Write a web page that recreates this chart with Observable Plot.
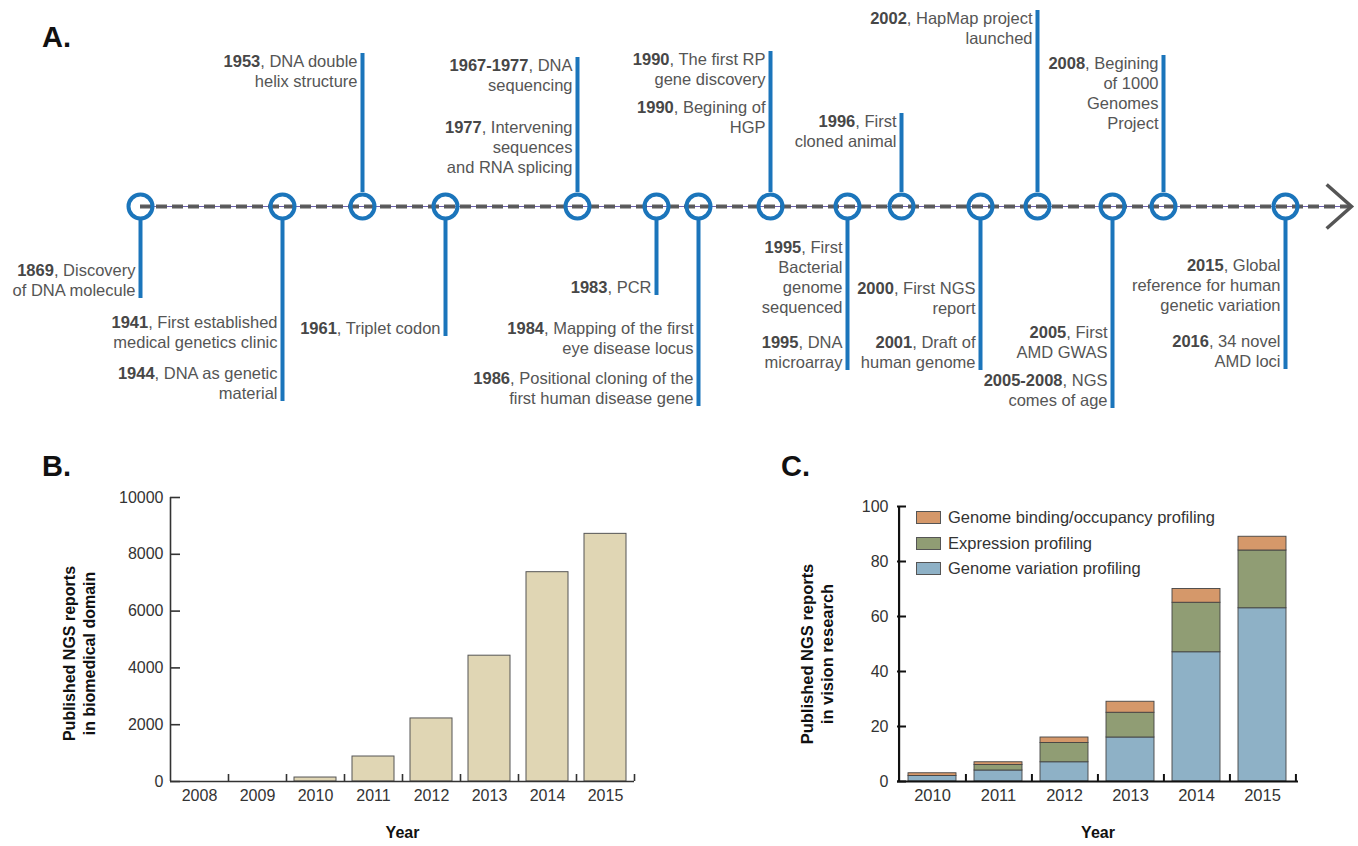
<!DOCTYPE html>
<html><head><meta charset="utf-8">
<script src="https://cdn.jsdelivr.net/npm/d3@7"></script>
<script src="https://cdn.jsdelivr.net/npm/@observablehq/plot@0.6"></script>
<style>
body{margin:0;background:#fff;font-family:"Liberation Sans",Arial,Helvetica,sans-serif;}
#root{position:relative;width:1358px;height:846px;overflow:hidden;background:#fff;}
.panel{position:absolute;}
.tag{position:absolute;font-weight:bold;font-size:29px;color:#111;line-height:1;}
.legend{position:absolute;font-size:16.5px;color:#333;}
.legend .row{display:flex;align-items:center;height:25.5px;}
.legend .sw{width:25px;height:13px;border:1px solid #555;box-sizing:border-box;margin-right:7px;}
</style></head><body><div id="root"></div>
<script>
// ---------- DATA ----------
// Panel A: timeline nodes (years shown by circles)
const nodeYears = [1869, 1944, 1953, 1961, 1977, 1983, 1986, 1990, 1995, 1996, 2001, 2002, 2005, 2008, 2016];
const axisEndYear = 2020;
// milestone paragraphs: node they hang from, their text lines
const milestoneNode = [1953, 1977, 1977, 1990, 1990, 1996, 2002, 2008,
  1869, 1944, 1944, 1961, 1983, 1986, 1986, 1995, 1995, 2001, 2001, 2005, 2005, 2016, 2016];
const milestoneText = [
  ["1953, DNA double", "helix structure"],
  ["1967-1977, DNA", "sequencing"],
  ["1977, Intervening", "sequences", "and RNA splicing"],
  ["1990, The first RP", "gene discovery"],
  ["1990, Begining of", "HGP"],
  ["1996, First", "cloned animal"],
  ["2002, HapMap project", "launched"],
  ["2008, Begining", "of 1000", "Genomes", "Project"],
  ["1869, Discovery", "of DNA molecule"],
  ["1941, First established", "medical genetics clinic"],
  ["1944, DNA as genetic", "material"],
  ["1961, Triplet codon"],
  ["1983, PCR"],
  ["1984, Mapping of the first", "eye disease locus"],
  ["1986, Positional cloning of the", "first human disease gene"],
  ["1995, First", "Bacterial", "genome", "sequenced"],
  ["1995, DNA", "microarray"],
  ["2000, First NGS", "report"],
  ["2001, Draft of", "human genome"],
  ["2005, First", "AMD GWAS"],
  ["2005-2008, NGS", "comes of age"],
  ["2015, Global", "reference for human", "genetic variation"],
  ["2016, 34 novel", "AMD loci"]
];

// Panel B
const bYears = ["2008", "2009", "2010", "2011", "2012", "2013", "2014", "2015"];
const bCounts = [0, 0, 140, 880, 2220, 4430, 7370, 8720];
const bTicks = [0, 2000, 4000, 6000, 8000, 10000];

// Panel C
const cYears = ["2010", "2011", "2012", "2013", "2014", "2015"];
const cSeries = ["Genome variation profiling", "Expression profiling", "Genome binding/occupancy profiling"];
const cVariation = [2, 4, 7, 16, 47, 63];
const cExpression = [0, 2, 7, 9, 18, 21];
const cBinding = [1, 1, 2, 4, 5, 5];
const cTicks = [0, 20, 40, 60, 80, 100];

// ---------- LAYOUT (not data) ----------
const nodePx = [140, 282, 362, 445, 577, 656, 698, 770, 847, 901, 980, 1037, 1112, 1163, 1285];
const arrowPx = 1351;
// text row (20px units from the axis) of each paragraph's first line
const milestoneRow = [7.25, 7.05, 3.95, 7.35, 4.95, 4.25, 9.4, 7.15,
  -3.2, -5.8, -8.35, -6.1, -4.05, -6.1, -8.6, -2.05, -6.8, -4.1, -6.8, -6.3, -8.7, -2.95, -6.75];

const FONT = "'Liberation Sans', Arial, Helvetica, sans-serif";
const blue = "#1b75bb";
const root = document.getElementById("root");

function place(node, left, top) {
  node.classList.add("panel");
  node.style.left = left + "px";
  node.style.top = top + "px";
  root.appendChild(node);
}
function tag(txt, left, top) {
  const d = document.createElement("div");
  d.className = "tag"; d.textContent = txt;
  d.style.left = left + "px"; d.style.top = top + "px";
  root.appendChild(d);
}

// ---------- PANEL A ----------
const lines = [];
milestoneText.forEach((ls, i) => ls.forEach((t, j) =>
  lines.push({node: milestoneNode[i], row: milestoneRow[i] - j, text: t})));
const stems = nodeYears.map(n => {
  const ls = lines.filter(l => l.node === n);
  const up = ls[0].row > 0;
  return {node: n, y1: up ? 0.7 : -0.7,
    y2: up ? d3.max(ls, l => l.row) + 0.4 : d3.min(ls, l => l.row) - 0.4};
});
const chevron = {
  draw(ctx, size) {
    const r = Math.sqrt(size / Math.PI);
    ctx.moveTo(-1.13 * r, -r); ctx.lineTo(0, 0); ctx.lineTo(-1.13 * r, r);
  }
};

const tl = Plot.plot({
  width: 1358, height: 420, margin: 0,
  x: {type: "linear", domain: [...nodeYears, axisEndYear], range: [...nodePx, arrowPx], axis: null},
  y: {domain: [-10.7, 10.3], axis: null},
  style: {fontFamily: FONT, background: "transparent", overflow: "visible"},
  marks: [
    Plot.ruleY([0], {x1: nodeYears[0], x2: axisEndYear, stroke: "#6a5fb0", strokeWidth: 1}),
    Plot.ruleY([0], {x1: nodeYears[0], x2: axisEndYear, stroke: "#555", strokeWidth: 4, strokeDasharray: "11,5", strokeOpacity: 0.95}),
    Plot.ruleX(stems, {x: "node", y1: "y1", y2: "y2", stroke: blue, strokeWidth: 4}),
    Plot.dot(nodeYears, {x: d => d, y: 0, r: 12, stroke: blue, strokeWidth: 4, fill: "none"}),
    Plot.dot([axisEndYear], {x: d => d, y: 0, r: 22, symbol: chevron, stroke: "#555", strokeWidth: 3.5, fill: "none"}),
    Plot.text(lines, {x: "node", y: "row", text: "text", textAnchor: "end", dx: -5, fontSize: 16.5, fill: "#555", lineAnchor: "middle"})
  ]
});
d3.select(tl).selectAll("text").each(function() {
  const m = this.textContent.match(/^(\d{4}(?:-\d{4})?)(,.*)$/);
  if (m) {
    this.textContent = "";
    d3.select(this).append("tspan").attr("font-weight", "bold").attr("fill", "#474747").text(m[1]);
    d3.select(this).append("tspan").text(m[2]);
  }
});
place(tl, 0, 0);

// ---------- PANEL B ----------
{
  const W = 680, H = 406, mL = 170, mR = 46, mT = 57, mB = 65;
  const fw = W - mL - mR, fh = H - mT - mB, step = fw / bYears.length;
  const ax = "#333";
  const bData = bYears.map((y, i) => ({year: y, count: bCounts[i]}));
  const p = Plot.plot({
    width: W, height: H, marginLeft: mL, marginRight: mR, marginTop: mT, marginBottom: mB,
    x: {domain: bYears, paddingInner: 0.276, paddingOuter: 0.138, label: null},
    y: {domain: [0, 10000], label: null},
    style: {fontFamily: FONT, background: "transparent", overflow: "visible", color: "#333"},
    marks: [
      Plot.barY(bData, {x: "year", y: "count", fill: "#e0d6b4", stroke: "#555", strokeWidth: 1}),
      Plot.ruleY([0], {stroke: ax, strokeWidth: 1.6}),
      Plot.ruleX([bYears[0]], {x: d => d, dx: -step / 2, stroke: ax, strokeWidth: 1.6}),
      Plot.ruleX(bYears, {x: d => d, dx: step / 2, insetTop: fh - 7, stroke: ax, strokeWidth: 1.6}),
      Plot.tickY(bTicks, {y: d => d, insetRight: fw - 10, stroke: ax, strokeWidth: 1.6}),
      Plot.axisY({ticks: bTicks, tickSize: 0, tickPadding: 7, tickFormat: "d", fontSize: 16, label: null}),
      Plot.axisX({tickSize: 0, tickPadding: 8, fontSize: 16, label: null}),
      Plot.text(["Year"], {frameAnchor: "bottom", dy: 56, fontWeight: "bold", fontSize: 16, fill: "#111"}),
      Plot.text(["Published NGS reports\nin biomedical domain"], {frameAnchor: "left", textAnchor: "middle", lineAnchor: "middle", rotate: -90, dx: -92, dy: 14, fontWeight: "bold", fontSize: 16, lineHeight: 1.25, fill: "#111"})
    ]
  });
  place(p, 0, 440);
}

// ---------- PANEL C ----------
{
  const W = 658, H = 406, mL = 197, mR = 60, mT = 66, mB = 65;
  const fw = W - mL - mR, fh = H - mT - mB, step = fw / cYears.length;
  const ax = "#111";
  const colors = ["#8eb1c6", "#909d74", "#d5986a"];
  const cData = [];
  [cVariation, cExpression, cBinding].forEach((vals, s) =>
    cYears.forEach((y, i) => cData.push({year: y, type: cSeries[s], value: vals[i]})));
  const p = Plot.plot({
    width: W, height: H, marginLeft: mL, marginRight: mR, marginTop: mT, marginBottom: mB,
    x: {domain: cYears, paddingInner: 0.27, paddingOuter: 0.135, label: null},
    y: {domain: [0, 100], label: null},
    color: {domain: cSeries, range: colors},
    style: {fontFamily: FONT, background: "transparent", overflow: "visible", color: "#333"},
    marks: [
      Plot.barY(cData, {x: "year", y: "value", fill: "type", stroke: "#444", strokeWidth: 0.9}),
      Plot.ruleY([0], {stroke: ax, strokeWidth: 2.2}),
      Plot.ruleX([cYears[0]], {x: d => d, dx: -step / 2, stroke: ax, strokeWidth: 2.2}),
      Plot.ruleX(cYears, {x: d => d, dx: step / 2, insetTop: fh - 7, stroke: ax, strokeWidth: 2}),
      Plot.tickY(cTicks, {y: d => d, insetRight: fw - 9, stroke: ax, strokeWidth: 2}),
      Plot.axisY({ticks: cTicks, tickSize: 0, tickPadding: 9, tickFormat: "d", fontSize: 16, label: null}),
      Plot.axisX({tickSize: 0, tickPadding: 8, fontSize: 16.5, label: null}),
      Plot.text(["Year"], {frameAnchor: "bottom", dy: 56, fontWeight: "bold", fontSize: 16, fill: "#111"}),
      Plot.text(["Published NGS reports\nin vision research"], {frameAnchor: "left", textAnchor: "middle", lineAnchor: "middle", rotate: -90, dx: -81, dy: 10, fontWeight: "bold", fontSize: 16.5, lineHeight: 1.25, fill: "#111"})
    ]
  });
  place(p, 700, 440);

  const lg = document.createElement("div");
  lg.className = "legend";
  lg.style.left = "916px"; lg.style.top = "505px";
  cSeries.slice().reverse().forEach(s => {
    const row = document.createElement("div"); row.className = "row";
    const sw = document.createElement("div"); sw.className = "sw";
    sw.style.background = colors[cSeries.indexOf(s)];
    const t = document.createElement("span"); t.textContent = s;
    row.appendChild(sw); row.appendChild(t); lg.appendChild(row);
  });
  root.appendChild(lg);
}

tag("A.", 42, 23);
tag("B.", 42, 452);
tag("C.", 781, 452);
</script></body></html>
